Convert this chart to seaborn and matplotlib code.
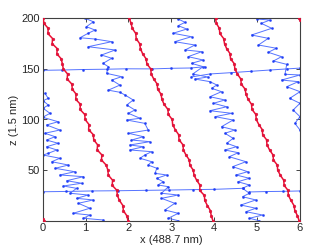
import matplotlib
matplotlib.use("Agg")
import matplotlib.pyplot as plt
import seaborn as sns
import pandas as pd

# red trace (one particle, wraps in z) - shared z grid
z_red = [200, 195, 190, 185, 180, 175, 170, 165, 160, 155, 150, 145, 140, 135, 130,
         125, 120, 115, 110, 105, 100, 95, 90, 85, 80, 75, 70, 65, 60, 55, 50, 45,
         40, 35, 30, 25, 20, 15, 10, 5, 0]
red1_x = [0.01, 0.03, 0.13, 0.12, 0.23, 0.22, 0.34, 0.33, 0.43, 0.46, 0.48, 0.58, 0.57,
          0.68, 0.69, 0.78, 0.77, 0.88, 0.87, 0.98, 0.99, 1.08, 1.07, 1.18, 1.19, 1.28,
          1.27, 1.38, 1.37, 1.48, 1.52, 1.53, 1.63, 1.62, 1.73, 1.74, 1.79, 1.87, 1.88,
          1.96, 1.99]
red2_x = [2.02, 2.06, 2.09, 2.17, 2.18, 2.26, 2.28, 2.33, 2.41, 2.43, 2.52, 2.53, 2.59,
          2.67, 2.68, 2.76, 2.78, 2.83, 2.92, 2.93, 3.02, 3.03, 3.09, 3.17, 3.18, 3.27,
          3.28, 3.34, 3.42, 3.43, 3.51, 3.53, 3.59, 3.67, 3.66, 3.77, 3.78, 3.84, 3.91,
          3.93, 3.97]
red3_x = [4.03, 4.05, 4.12, 4.13, 4.22, 4.24, 4.29, 4.37, 4.38, 4.47, 4.48, 4.54, 4.62,
          4.63, 4.72, 4.74, 4.79, 4.87, 4.88, 4.97, 4.98, 5.04, 5.12, 5.13, 5.22, 5.23,
          5.29, 5.37, 5.38, 5.47, 5.48, 5.54, 5.62, 5.63, 5.72, 5.73, 5.79, 5.86, 5.88,
          5.94, 5.98]
red_top_x = [5.97, 6.0]
red_top_z = [200.0, 198.5]
red_bot_x = [0.0, 0.02]
red_bot_z = [1.5, 0.0]

# blue traces
blue_a_x = [0.05, 0.13, 0.01, 0.13, 0.01, 0.17, 0.00, 0.36, 0.09, 0.40, 0.05, 0.29, 0.09,
            0.36, 0.09, 0.33, 0.13, 0.01, 0.40, 0.21, 0.60, 0.29, 0.75, 0.40, 0.95, 0.56,
            0.91, 0.48, 0.79, 0.64, 1.06, 0.79, 1.18, 0.83, 1.10, 0.71, 1.10, 0.95, 1.41]
blue_a_z = [125.9, 120.9, 118.6, 114.3, 111.1, 106.1, 102.2, 97.8, 94.6, 89.6, 86.4, 83.0,
            79.7, 76.5, 73.1, 69.9, 66.6, 64.9, 61.7, 58.3, 55.0, 51.8, 48.4, 45.2, 43.5,
            39.5, 37.0, 34.3, 32.0, 27.1, 25.4, 22.1, 20.5, 17.2, 12.3, 7.3, 5.6, 2.4, 0.7]

blue_b_x = [0.99, 1.18, 1.02, 1.22, 1.06, 0.87, 1.22, 1.61, 1.06, 1.69, 1.37, 1.61, 1.41,
            1.53, 1.49, 1.84, 1.61, 1.80, 1.53, 1.80, 1.92, 2.11, 1.96, 2.15, 2.00, 2.27,
            1.96, 2.38, 2.46, 2.00, 2.35, 2.07, 2.50, 2.03, 2.35, 2.03, 2.54, 2.38, 2.27,
            2.54, 2.46, 2.66, 2.62, 2.89, 2.66, 2.81, 2.69, 2.93, 2.77, 3.16, 2.77, 3.08,
            2.85, 3.16, 2.93, 3.16]
blue_b_z = [200.0, 196.6, 191.7, 188.4, 185.2, 180.8, 179.5, 176.9, 171.9, 168.7, 163.7,
            160.5, 155.5, 152.2, 145.6, 142.3, 139.0, 134.0, 129.0, 126.9, 124.2, 119.3,
            114.3, 109.4, 106.1, 101.2, 99.5, 96.2, 89.6, 86.4, 83.0, 79.7, 78.1, 74.8,
            73.1, 69.9, 68.2, 64.9, 61.7, 58.3, 55.0, 51.8, 46.8, 45.2, 41.9, 38.5, 35.3,
            33.6, 27.1, 25.4, 22.1, 17.2, 10.6, 7.3, 2.4, 0.0]

blue_c_x = [3.16, 3.32, 3.16, 3.36, 3.04, 3.47, 3.08, 3.55, 3.32, 3.71, 3.39, 3.74, 3.47,
            3.74, 3.50, 3.85, 3.55, 3.90, 4.06, 3.94, 4.17, 3.90, 4.25, 3.98, 4.29, 3.90,
            4.41, 4.02, 4.44, 4.17, 4.48, 4.25, 4.44, 4.29, 4.52, 4.25, 4.56, 4.35, 4.74,
            4.43, 4.78, 4.51, 4.82, 4.55, 4.82, 4.66, 4.82, 4.66, 4.97, 4.62, 4.97, 4.74,
            5.13, 4.82, 5.05]
blue_c_z = [199.3, 196.0, 192.7, 189.4, 185.2, 181.8, 176.9, 173.6, 168.7, 167.0, 162.1,
            158.8, 155.5, 152.2, 145.0, 142.0, 140.0, 137.4, 134.1, 130.8, 127.5, 122.5,
            119.3, 116.0, 112.6, 108.7, 106.1, 102.8, 99.5, 92.9, 89.6, 86.4, 81.4, 76.5,
            73.1, 69.9, 67.2, 63.2, 58.3, 53.4, 48.4, 45.2, 41.9, 38.5, 35.3, 32.0, 27.1,
            23.7, 20.5, 15.5, 12.3, 8.9, 5.6, 2.4, 0.0]

blue_d_x = [4.99, 5.30, 5.10, 5.34, 4.87, 5.26, 5.03, 5.45, 5.26, 5.57, 5.38, 5.69, 5.65,
            6.00, 5.57, 5.96, 5.69, 6.00, 5.76, 6.00, 5.84, 6.00, 5.88, 6.00]
blue_d_z = [199.3, 198.3, 195.0, 190.1, 183.5, 180.2, 173.6, 170.4, 166.4, 162.1, 157.8,
            154.5, 144.7, 144.0, 139.0, 137.4, 132.4, 127.5, 120.9, 116.0, 109.4, 102.8,
            96.2, 89.6]

# fast jumps across the box
jump1_x = [0.00, 0.45, 0.95, 1.50, 1.95, 2.55, 3.00, 3.46, 3.78]
jump1_z = [148.6, 148.9, 149.4, 149.7, 150.1, 150.0, 150.6, 150.9, 152.2]
jump2_x = [3.46, 3.90, 4.40, 4.85, 5.30, 5.70, 6.00]
jump2_z = [142.0, 145.0, 146.3, 147.6, 148.9, 150.0, 150.8]
jump3_x = [0.00, 0.55, 1.15, 1.75, 2.40, 2.95, 3.50, 4.00, 4.66]
jump3_z = [28.6, 28.9, 29.4, 29.6, 30.0, 30.3, 30.7, 31.0, 32.0]
jump4_x = [4.82, 5.20, 5.60, 6.00]
jump4_z = [28.4, 28.8, 29.0, 29.4]


def long_table(pieces):
    rows = []
    for k, (xs, zs) in enumerate(pieces):
        for xv, zv in zip(xs, zs):
            rows.append({"trace": k, "x": xv, "z": zv})
    return pd.DataFrame(rows)


blue = long_table([(blue_a_x, blue_a_z), (blue_b_x, blue_b_z), (blue_c_x, blue_c_z),
                   (blue_d_x, blue_d_z), (jump1_x, jump1_z), (jump2_x, jump2_z),
                   (jump3_x, jump3_z), (jump4_x, jump4_z)])
red = long_table([(red1_x, z_red), (red2_x, z_red), (red3_x, z_red),
                  (red_top_x, red_top_z), (red_bot_x, red_bot_z)])

sns.set_style("ticks")
plt.rcParams["font.family"] = ["Liberation Sans", "DejaVu Sans"]

fig = plt.figure(figsize=(3.32, 2.5), dpi=100)
ax = fig.add_axes([0.1286, 0.1172, 0.775, 0.8096])

sns.lineplot(data=blue, x="x", y="z", units="trace", estimator=None, sort=False,
             color="#5573ff", lw=0.7, marker=".", markersize=3,
             markeredgecolor="#1f3df5", markerfacecolor="#1f3df5", markeredgewidth=0.3,
             ax=ax, zorder=2)
sns.lineplot(data=red, x="x", y="z", units="trace", estimator=None, sort=False,
             color="#ee1133", lw=1.1, marker=".", markersize=4,
             markeredgecolor="#c81040", markerfacecolor="#ee1133", markeredgewidth=0.3,
             ax=ax, zorder=3)

ax.set_xlim(0, 6)
ax.set_ylim(0, 200)
ax.set_xticks([0, 1, 2, 3, 4, 5, 6])
ax.set_yticks([50, 100, 150, 200])
ax.tick_params(direction="in", top=True, right=True, length=3, width=0.6,
               labelsize=8, pad=2, colors="#262626")
for s in ax.spines.values():
    s.set_linewidth(0.8)
    s.set_color("#404040")
ax.set_xlabel("x (488.7 nm)", fontsize=8, labelpad=1)
ax.set_ylabel("z (1.5 nm)", fontsize=8, labelpad=2)

fig.savefig("out.png", dpi=100)
